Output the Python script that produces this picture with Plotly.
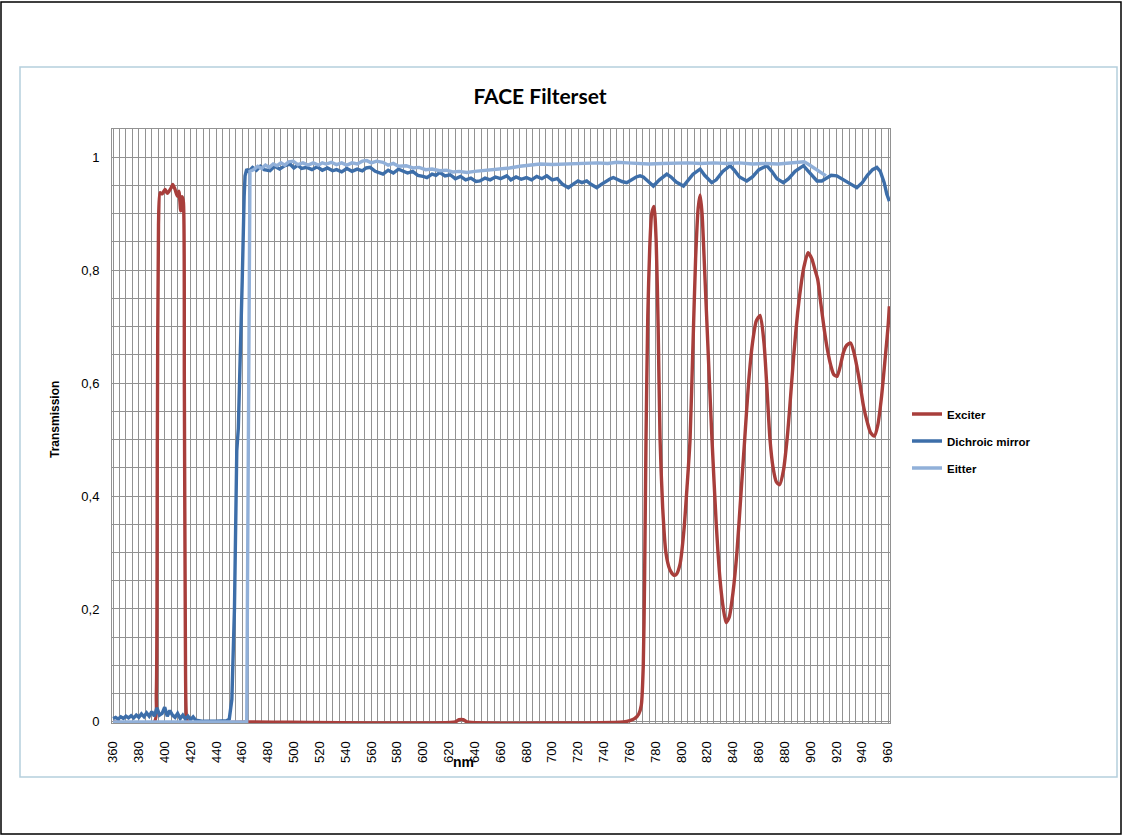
import plotly.graph_objects as go

# ---------------- data ----------------
exciter_nm = [360, 392, 393.5, 394.3, 395.2, 396.4, 398, 400.3, 402, 403.4, 405, 406.2, 408, 409.8, 411,
              412.4, 413.5, 414.5, 415.2, 416, 416.8, 418, 465, 625, 628, 631, 634, 755, 760, 764, 767,
              769, 770.5, 771.5, 772.6, 774, 775.5, 777, 778.8, 780.5, 782, 783.5, 785.5, 788, 791, 794,
              796, 799, 802, 804.5, 806.7, 809, 811, 813, 814.5, 816, 818, 821, 823.7, 827, 830, 832.5,
              834.6, 837, 840, 843, 846, 849, 852, 855, 858, 861, 864, 866, 868.6, 871, 873.5, 876, 879,
              882, 884, 887, 890, 893, 895, 898, 901, 903.5, 905.5, 908, 910.6, 913, 915.8, 918, 920.5,
              923, 925.4, 928, 931, 933.5, 935.8, 938.5, 941, 944, 946.5, 949.4, 952, 955, 958, 960, 961]
exciter_t = [0, 0, 0.05, 0.5, 0.88, 0.937, 0.935, 0.943, 0.936, 0.94, 0.946, 0.952, 0.943, 0.931, 0.94,
             0.905, 0.93, 0.92, 0.6, 0.15, 0.01, 0, 0, 0, 0.004, 0.004, 0, 0, 0.002, 0.006, 0.014,
             0.03, 0.1, 0.25, 0.5, 0.72, 0.84, 0.9, 0.913, 0.85, 0.7, 0.5, 0.38, 0.3, 0.27, 0.26,
             0.261, 0.28, 0.34, 0.42, 0.5, 0.67, 0.82, 0.91, 0.933, 0.9, 0.8, 0.64, 0.5, 0.35, 0.25, 0.2,
             0.176, 0.185, 0.23, 0.3, 0.4, 0.5, 0.6, 0.67, 0.71, 0.72, 0.67, 0.6, 0.5, 0.45, 0.425, 0.42, 0.445,
             0.505, 0.56, 0.65, 0.725, 0.78, 0.807, 0.831, 0.82, 0.8, 0.784, 0.74, 0.695, 0.66, 0.63, 0.615, 0.612,
             0.63, 0.654, 0.667, 0.671, 0.655, 0.63, 0.595, 0.559, 0.53, 0.512, 0.506, 0.525, 0.577, 0.65, 0.7, 0.736]

dichroic_nm = [360, 362, 364, 366, 368, 370, 372, 374, 376, 378, 380, 382, 384, 386, 388, 390, 392, 394,
               396, 398, 400, 402, 404, 406, 408, 410, 412, 414, 416, 418, 420, 422, 424, 426, 430, 440,
               448, 450, 452, 454, 455.8, 457, 458.5, 460, 461.5, 462.2, 463.5, 465, 468, 471, 474, 477,
               481.5, 485, 489, 493, 497, 500, 503, 506, 510, 514, 518, 522, 526, 530, 533, 537, 541, 545,
               549, 553, 556, 559, 563, 566, 569, 573, 577, 581, 584.5, 588, 592, 596, 600, 603, 607, 610,
               613, 617, 621, 625, 629, 633, 637, 641, 644, 648, 652, 656, 660, 664.8, 668, 672, 676, 680,
               684, 688, 692, 695.8, 700, 704, 708, 712.5, 716, 720, 723, 726.7, 730, 734.5, 738, 742, 745,
               747.3, 751, 754, 757.7, 761, 765, 768, 770.5, 774, 778.3, 783, 788.7, 792, 796, 801.6, 805,
               809, 814.5, 818, 823.5, 827, 832, 837.7, 841, 845, 850.6, 855, 860, 866.1, 870, 874, 879,
               883, 888, 894.5, 898, 902, 905, 908.7, 912, 916, 920.3, 924, 928, 932, 935.8, 940, 944, 948,
               951.3, 954, 957, 959, 961]
dichroic_t = [0.006, 0.008, 0.005, 0.009, 0.006, 0.01, 0.007, 0.011, 0.007, 0.012, 0.008, 0.014, 0.009,
              0.016, 0.01, 0.018, 0.01, 0.025, 0.012, 0.015, 0.026, 0.01, 0.02, 0.012, 0.008, 0.015, 0.006,
              0.012, 0.005, 0.01, 0.004, 0.009, 0.003, 0.002, 0.001, 0.001, 0.002, 0.005, 0.04, 0.2, 0.48,
              0.52, 0.63, 0.78, 0.93, 0.967, 0.979, 0.975, 0.982, 0.977, 0.984, 0.978, 0.976, 0.984, 0.979,
              0.985, 0.988, 0.981, 0.986, 0.98, 0.982, 0.978, 0.983, 0.977, 0.981, 0.976, 0.978, 0.974, 0.98,
              0.975, 0.979, 0.976, 0.981, 0.982, 0.975, 0.973, 0.97, 0.977, 0.972, 0.979, 0.976, 0.972, 0.975,
              0.968, 0.966, 0.964, 0.97, 0.968, 0.973, 0.967, 0.969, 0.962, 0.966, 0.96, 0.963, 0.957, 0.958,
              0.963, 0.96, 0.965, 0.962, 0.967, 0.96, 0.965, 0.961, 0.964, 0.96, 0.966, 0.962, 0.967, 0.96,
              0.962, 0.952, 0.946, 0.952, 0.958, 0.955, 0.958, 0.952, 0.946, 0.952, 0.958, 0.962, 0.964, 0.96,
              0.957, 0.955, 0.96, 0.965, 0.967, 0.965, 0.958, 0.949, 0.96, 0.97, 0.965, 0.956, 0.949, 0.958,
              0.97, 0.979, 0.968, 0.955, 0.96, 0.975, 0.985, 0.977, 0.965, 0.958, 0.965, 0.978, 0.985, 0.975,
              0.962, 0.955, 0.962, 0.975, 0.985, 0.976, 0.965, 0.958, 0.958, 0.962, 0.968, 0.967, 0.962, 0.955,
              0.95, 0.946, 0.955, 0.968, 0.978, 0.982, 0.975, 0.955, 0.935, 0.922]

eitter_nm = [360, 400, 440, 463.5, 464, 464.7, 465.3, 466, 469, 472, 475, 478, 481, 484, 487, 490, 493,
             496, 499.5, 503, 507, 511, 515, 519, 522, 525, 529, 533, 537, 541, 545, 549, 553, 556.4, 560,
             564, 569, 573, 577, 581, 587, 592, 597, 602, 607, 613, 618, 623, 628, 634, 640, 646, 652, 660,
             667, 675, 683, 690.6, 700, 708, 716.4, 725, 735, 743, 750, 758, 765, 775, 785, 795, 805, 815,
             825, 835, 845, 855, 865, 875, 885, 892, 895, 898, 902, 906, 909, 912]
eitter_t = [0, 0, 0, 0, 0.2, 0.6, 0.9, 0.975, 0.978, 0.984, 0.98, 0.986, 0.982, 0.988, 0.985, 0.99, 0.986,
            0.992, 0.993, 0.987, 0.99, 0.986, 0.99, 0.986, 0.99, 0.988, 0.991, 0.987, 0.99, 0.986, 0.99, 0.988,
            0.993, 0.994, 0.99, 0.993, 0.991, 0.986, 0.989, 0.984, 0.985, 0.981, 0.982, 0.978, 0.979, 0.976,
            0.977, 0.974, 0.975, 0.973, 0.975, 0.976, 0.977, 0.979, 0.981, 0.984, 0.986, 0.988, 0.987, 0.988,
            0.988, 0.989, 0.99, 0.989, 0.991, 0.99, 0.989, 0.988, 0.989, 0.99, 0.99, 0.989, 0.99, 0.989, 0.99,
            0.988, 0.989, 0.988, 0.99, 0.991, 0.992, 0.988, 0.982, 0.975, 0.97, 0.967]

x_ticks = list(range(360, 961, 20))
y_ticks = [0, 0.2, 0.4, 0.6, 0.8, 1]
y_tick_labels = ["0", "0,2", "0,4", "0,6", "0,8", "1"]

series_names = ["Exciter", "Dichroic mirror", "Eitter"]
series_colors = ["#A83E3B", "#3D6EA9", "#91B0D9"]
series_shapes = ["spline", "linear", "linear"]

# ---------------- layout helpers ----------------
W, H = 1123, 836
PL, PR, PT, PB = 112, 890, 129, 723  # plot area in pixels


def px_x(p):
    return (p - PL) / (PR - PL)


def px_y(p):
    return (PB - p) / (PB - PT)


fig = go.Figure()
for name, xs, ys, col, shp in zip(series_names, [exciter_nm, dichroic_nm, eitter_nm],
                                  [exciter_t, dichroic_t, eitter_t], series_colors, series_shapes):
    line = dict(color=col, width=3.4, shape=shp)
    if shp == "spline":
        line["smoothing"] = 0.6
    fig.add_trace(go.Scatter(x=xs, y=ys, mode="lines", name=name, legendgroup=name, line=line))

grid_col = "#929292"
fig.update_layout(
    width=W, height=H,
    margin=dict(l=PL, r=W - PR, t=PT, b=H - PB),
    paper_bgcolor="white", plot_bgcolor="white",
    font=dict(family="Liberation Sans, Arial, sans-serif", color="#000000"),
    title=dict(text="<b>FACE Filterset</b>", x=540 / W, xref="container", xanchor="center",
               y=1 - 97 / H, yref="container", yanchor="middle",
               font=dict(family="Lato, sans-serif", size=21, color="#000000")),
    showlegend=True,
    legend=dict(x=px_x(907), xanchor="left", y=px_y(441), yanchor="middle",
                traceorder="grouped", tracegroupgap=8, bgcolor="rgba(0,0,0,0)",
                font=dict(family="Liberation Sans, Arial, sans-serif", size=11.5, color="#000000",
                          weight="bold")),
    xaxis=dict(range=[359.2, 961.5], tickmode="array", tickvals=x_ticks,
               ticktext=[str(v) for v in x_ticks], tickangle=-90,
               tickfont=dict(size=13), ticks="", ticklabelstandoff=12,
               showgrid=True, gridcolor=grid_col, gridwidth=1,
               minor=dict(dtick=5, tick0=360, showgrid=True, gridcolor=grid_col, gridwidth=1),
               showline=True, linecolor=grid_col, linewidth=1, mirror=True, zeroline=False),
    yaxis=dict(range=[-0.002, 1.05], tickmode="array", tickvals=y_ticks, ticktext=y_tick_labels,
               tickfont=dict(size=13), ticks="", ticklabelstandoff=9,
               showgrid=True, gridcolor=grid_col, gridwidth=1,
               minor=dict(dtick=0.05, tick0=0, showgrid=True, gridcolor=grid_col, gridwidth=1),
               showline=True, linecolor=grid_col, linewidth=1, mirror=True, zeroline=False),
    annotations=[
        dict(text="<b>Transmission</b>", xref="paper", yref="paper", x=px_x(55), y=px_y(420),
             textangle=-90, showarrow=False, xanchor="center", yanchor="middle",
             font=dict(size=12, color="#000000")),
        dict(text="<b>nm</b>", xref="paper", yref="paper", x=px_x(463), y=px_y(762),
             showarrow=False, xanchor="center", yanchor="middle",
             font=dict(size=14, color="#000000")),
    ],
    shapes=[
        dict(type="rect", xref="paper", yref="paper", x0=px_x(1), x1=px_x(1121), y0=px_y(834),
             y1=px_y(2), line=dict(color="#000000", width=1.5), layer="below"),
        dict(type="rect", xref="paper", yref="paper", x0=px_x(20), x1=px_x(1117), y0=px_y(777),
             y1=px_y(67), line=dict(color="#B5CFDD", width=1.5), layer="below"),
    ],
)

fig.write_html("out.html")
